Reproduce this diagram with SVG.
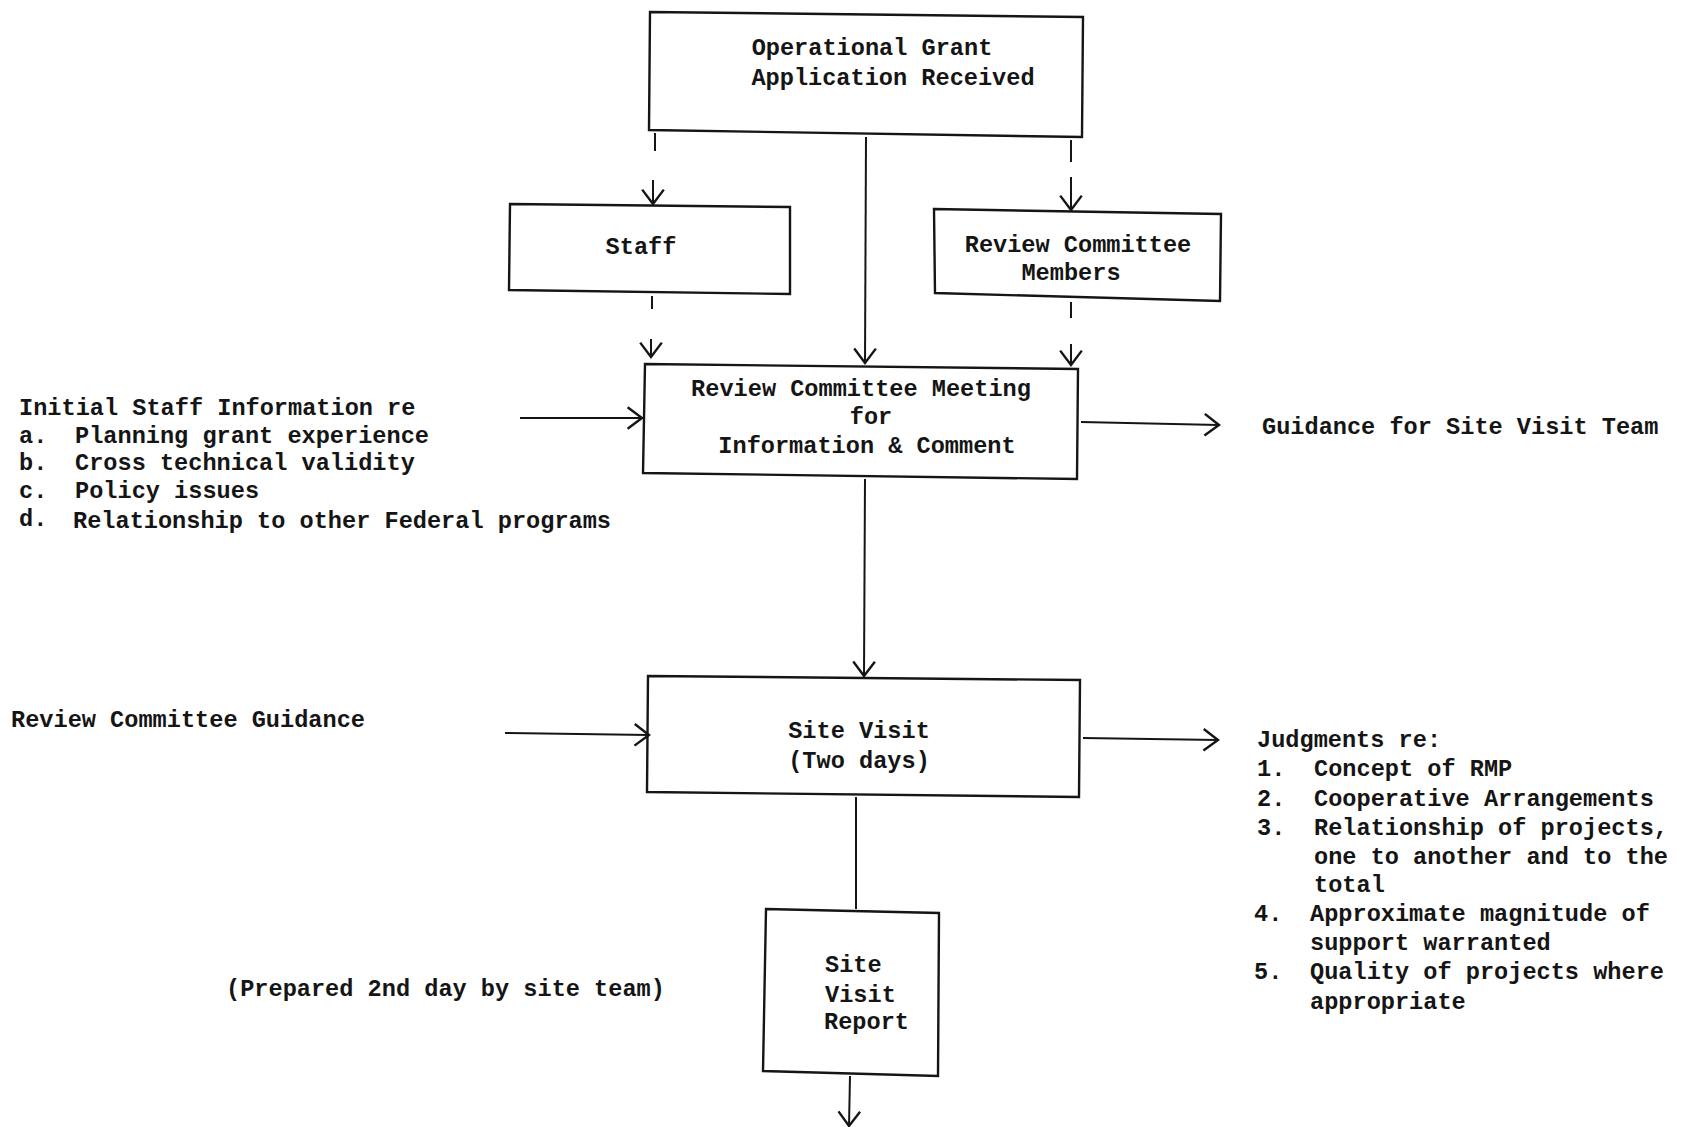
<svg xmlns="http://www.w3.org/2000/svg" width="1682" height="1127" viewBox="0 0 1682 1127">
<defs>
<style>
text{font-family:"Liberation Mono","Courier New",monospace;font-size:23.6px;font-weight:bold;fill:#151515}
.c{text-anchor:middle}
.box{fill:none;stroke:#151515;stroke-width:2.4}
.ln{fill:none;stroke:#151515;stroke-width:2}
</style>
<marker id="ah" markerUnits="userSpaceOnUse" markerWidth="20" markerHeight="24" refX="13" refY="10" orient="auto" viewBox="0 0 16 20">
<path d="M1,1 L13,10 L1,19" fill="none" stroke="#151515" stroke-width="2"/>
</marker>
</defs>
<rect width="1682" height="1127" fill="#ffffff"/>

<g id="n-application">
<path class="box" d="M650,12 L1083,17 L1082,137 L649,130 Z"/>
<text class="c" x="872" y="55">Operational Grant</text>
<text class="c" x="893" y="85">Application Received</text>
</g>

<g id="n-staff">
<path class="box" d="M510,204 L790,207 L790,294 L509,290 Z"/>
<text class="c" x="641" y="254">Staff</text>
</g>

<g id="n-members">
<path class="box" d="M934,209 L1221,214 L1220,301 L935,293 Z"/>
<text class="c" x="1078" y="252">Review Committee</text>
<text class="c" x="1071" y="280">Members</text>
</g>

<g id="n-meeting">
<path class="box" d="M645,364 L1078,369 L1077,479 L643,473 Z"/>
<text class="c" x="861" y="396">Review Committee Meeting</text>
<text class="c" x="871" y="424">for</text>
<text class="c" x="867" y="453">Information &amp; Comment</text>
</g>

<g id="n-sitevisit">
<path class="box" d="M648,676 L1080,680 L1079,797 L647,792 Z"/>
<text class="c" x="859" y="738">Site Visit</text>
<text class="c" x="859" y="768">(Two days)</text>
</g>

<g id="n-report">
<path class="box" d="M766,909 L939,913 L938,1076 L763,1071 Z"/>
<text x="825" y="972">Site</text>
<text x="825" y="1002">Visit</text>
<text x="824" y="1029">Report</text>
</g>

<g id="n-initial-info">
<text x="19" y="415">Initial Staff Information re</text>
<text x="19" y="443">a.</text><text x="75" y="443">Planning grant experience</text>
<text x="19" y="470">b.</text><text x="75" y="470">Cross technical validity</text>
<text x="19" y="498">c.</text><text x="75" y="498">Policy issues</text>
<text x="19" y="526">d.</text><text x="73" y="528">Relationship to other Federal programs</text>
</g>

<g id="n-guidance-team">
<text x="1262" y="434">Guidance for Site Visit Team</text>
</g>

<g id="n-rc-guidance">
<text x="11" y="727">Review Committee Guidance</text>
</g>

<g id="n-judgments">
<text x="1257" y="747">Judgments re:</text>
<text x="1257" y="776">1.</text><text x="1314" y="776">Concept of RMP</text>
<text x="1257" y="806">2.</text><text x="1314" y="806">Cooperative Arrangements</text>
<text x="1257" y="835">3.</text><text x="1314" y="835">Relationship of projects,</text>
<text x="1314" y="864">one to another and to the</text>
<text x="1314" y="892">total</text>
<text x="1254" y="921">4.</text><text x="1310" y="921">Approximate magnitude of</text>
<text x="1310" y="950">support warranted</text>
<text x="1254" y="979">5.</text><text x="1310" y="979">Quality of projects where</text>
<text x="1310" y="1009">appropriate</text>
</g>

<g id="n-prepared">
<text x="226" y="996">(Prepared 2nd day by site team)</text>
</g>

<g id="connectors">
<line class="ln" x1="655" y1="133" x2="655" y2="151"/>
<line class="ln" x1="653" y1="180" x2="653" y2="204" marker-end="url(#ah)"/>
<line class="ln" x1="1071" y1="140" x2="1071" y2="162"/>
<line class="ln" x1="1071" y1="177" x2="1071" y2="210" marker-end="url(#ah)"/>
<line class="ln" x1="866" y1="137" x2="865" y2="363" marker-end="url(#ah)"/>
<line class="ln" x1="652" y1="296" x2="652" y2="309"/>
<line class="ln" x1="651" y1="339" x2="651" y2="357" marker-end="url(#ah)"/>
<line class="ln" x1="1071" y1="302" x2="1071" y2="318"/>
<line class="ln" x1="1071" y1="344" x2="1071" y2="365" marker-end="url(#ah)"/>
<line class="ln" x1="520" y1="418" x2="642" y2="418" marker-end="url(#ah)"/>
<line class="ln" x1="1081" y1="422" x2="1219" y2="425" marker-end="url(#ah)"/>
<line class="ln" x1="865" y1="479" x2="864" y2="676" marker-end="url(#ah)"/>
<line class="ln" x1="505" y1="733" x2="649" y2="735" marker-end="url(#ah)"/>
<line class="ln" x1="1083" y1="738" x2="1218" y2="740" marker-end="url(#ah)"/>
<line class="ln" x1="856" y1="797" x2="856" y2="909"/>
<line class="ln" x1="850" y1="1076" x2="849" y2="1126" marker-end="url(#ah)"/>
</g>
</svg>
